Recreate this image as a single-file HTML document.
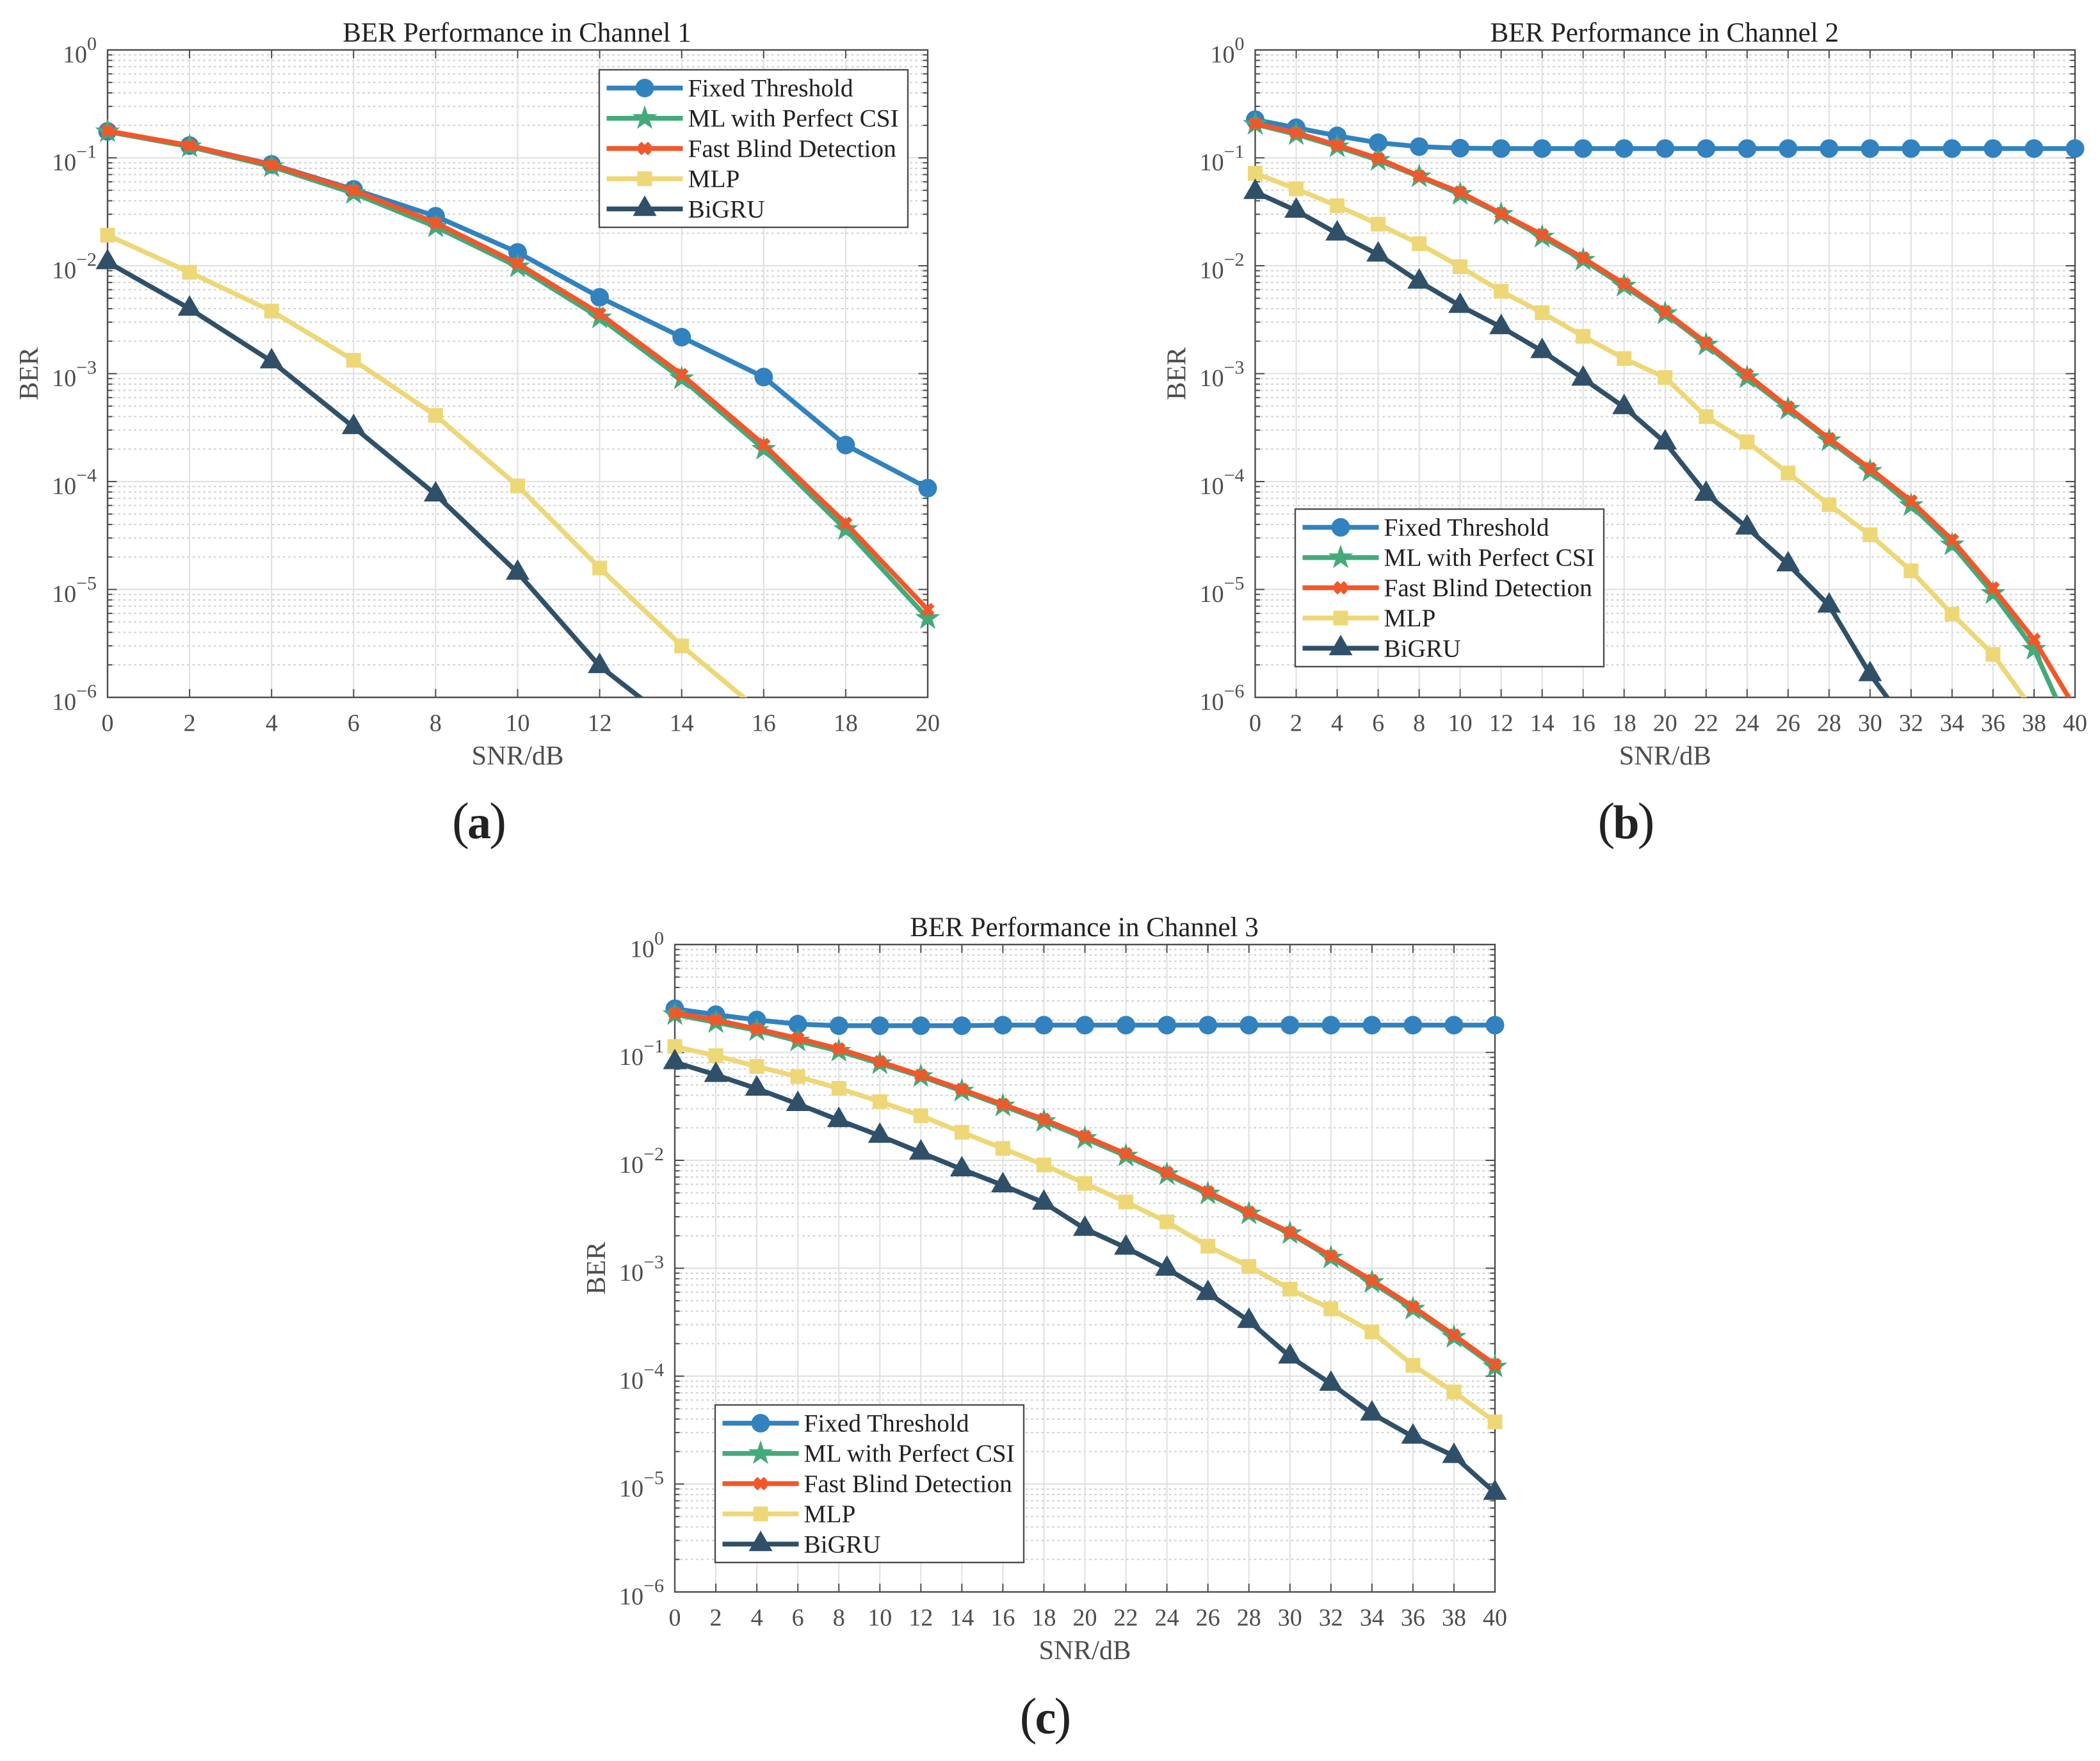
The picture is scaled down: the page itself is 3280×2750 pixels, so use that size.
<!DOCTYPE html>
<html lang="en">
<head>
<meta charset="utf-8">
<title>BER Performance in Channels 1-3</title>
<style>
  html, body { margin: 0; padding: 0; background: #fff; }
  svg { display: block; font-family: "Liberation Serif", serif; }
</style>
</head>
<body>
<svg id="figure" xmlns="http://www.w3.org/2000/svg" width="3280" height="2750" viewBox="0 0 3280 2750">
  <rect x="0" y="0" width="3280" height="2750" fill="#ffffff"/>
  <g id="panel-a"></g>
  <g id="panel-b"></g>
  <g id="panel-c"></g>
  <text x="748.5" y="1309" text-anchor="middle" font-size="80" fill="#222">(<tspan font-weight="bold" font-size="74" dx="-2.8">a</tspan><tspan dx="-2.8">)</tspan></text>
  <text x="2540" y="1309" text-anchor="middle" font-size="80" fill="#222">(<tspan font-weight="bold" font-size="74" dx="-2.8">b</tspan><tspan dx="-2.8">)</tspan></text>
  <text x="1633" y="2707" text-anchor="middle" font-size="80" fill="#222">(<tspan font-weight="bold" font-size="74" dx="-2.8">c</tspan><tspan dx="-2.8">)</tspan></text>
</svg>
<script>
// ---------- data ----------
const seriesNames = ['Fixed Threshold', 'ML with Perfect CSI', 'Fast Blind Detection', 'MLP', 'BiGRU'];
const yTickExponents = ['0', '\u22121', '\u22122', '\u22123', '\u22124', '\u22125', '\u22126'];
const yDecades = [0, -1, -2, -3, -4, -5, -6];
const minorMultipliers = [2, 3, 4, 5, 6, 7, 8, 9];

const ch1Snr = [0, 2, 4, 6, 8, 10, 12, 14, 16, 18, 20];
const ch1Fixed = [0.176, 0.13, 0.087, 0.051, 0.0288, 0.0133, 0.0051, 0.00218, 0.00093, 0.000218, 0.000087];
const ch1Ml = [0.175, 0.127, 0.083, 0.047, 0.023, 0.0098, 0.0033, 0.0009, 0.0002, 0.000036, 0.0000054];
const ch1Fast = [0.178, 0.13, 0.086, 0.05, 0.025, 0.0105, 0.0036, 0.00098, 0.00022, 0.000041, 0.0000065];
const ch1Mlp = [0.0192, 0.0087, 0.0038, 0.00133, 0.00041, 0.000091, 0.0000158, 0.000003, 0.0000007, 0.00000014, 0.00000002];
const ch1Bigru = [0.0108, 0.004, 0.0013, 0.00032, 0.000076, 0.0000143, 0.00000195, 0.0000005, 0.00000008, 0.00000002, 0.000000005];

const ch2Snr = [0, 2, 4, 6, 8, 10, 12, 14, 16, 18, 20, 22, 24, 26, 28, 30, 32, 34, 36, 38, 40];
const ch2Fixed = [0.226, 0.19, 0.16, 0.138, 0.127, 0.123, 0.122, 0.122, 0.122, 0.122, 0.122, 0.122, 0.122, 0.122, 0.122, 0.122, 0.122, 0.122, 0.122, 0.122, 0.122];
const ch2Ml = [0.205, 0.165, 0.127, 0.095, 0.067, 0.046, 0.03, 0.0185, 0.0113, 0.0065, 0.0036, 0.00185, 0.00092, 0.00047, 0.00024, 0.000125, 0.00006, 0.000026, 0.0000092, 0.0000028, 0.0000004];
const ch2Fast = [0.208, 0.171, 0.131, 0.0989, 0.0678, 0.0481, 0.0305, 0.0194, 0.0118, 0.00679, 0.00376, 0.00193, 0.00098, 0.00049, 0.00025, 0.000132, 0.000066, 0.0000288, 0.0000103, 0.00000343, 0.0000008];
const ch2Mlp = [0.0719, 0.0515, 0.036, 0.0243, 0.016, 0.0098, 0.0058, 0.00367, 0.00222, 0.00138, 0.00092, 0.0004, 0.000233, 0.00012, 0.000061, 0.0000321, 0.0000149, 0.0000059, 0.0000025, 0.00000074, 0.0000002];
const ch2Bigru = [0.0483, 0.0324, 0.0199, 0.0127, 0.00713, 0.00425, 0.0027, 0.00162, 0.0009, 0.00049, 0.00023, 0.000077, 0.0000375, 0.0000171, 0.0000071, 0.00000164, 0.0000005, 0.00000015, 0.00000004, 0.00000001, 0.000000003];

const ch3Snr = [0, 2, 4, 6, 8, 10, 12, 14, 16, 18, 20, 22, 24, 26, 28, 30, 32, 34, 36, 38, 40];
const ch3Fixed = [0.254, 0.224, 0.2, 0.183, 0.177, 0.177, 0.177, 0.177, 0.179, 0.179, 0.179, 0.179, 0.179, 0.179, 0.179, 0.179, 0.179, 0.179, 0.179, 0.179, 0.179];
const ch3Ml = [0.225, 0.19, 0.16, 0.128, 0.103, 0.079, 0.06, 0.044, 0.032, 0.023, 0.016, 0.011, 0.0074, 0.0049, 0.0032, 0.0021, 0.00125, 0.00074, 0.00042, 0.00023, 0.000122];
const ch3Fast = [0.232, 0.2, 0.165, 0.135, 0.108, 0.082, 0.0615, 0.0455, 0.033, 0.024, 0.0167, 0.0115, 0.0077, 0.0051, 0.0033, 0.00215, 0.0013, 0.00077, 0.00044, 0.00024, 0.000128];
const ch3Mlp = [0.1135, 0.0933, 0.0741, 0.0597, 0.0465, 0.035, 0.0259, 0.0182, 0.0129, 0.00906, 0.00611, 0.00411, 0.00269, 0.0016, 0.00104, 0.00064, 0.00042, 0.000257, 0.000126, 0.0000714, 0.0000377];
const ch3Bigru = [0.0813, 0.0619, 0.0462, 0.0333, 0.0236, 0.0169, 0.0118, 0.00826, 0.00587, 0.00405, 0.00232, 0.00155, 0.00099, 0.00059, 0.000325, 0.000152, 0.000085, 0.000045, 0.0000275, 0.0000182, 0.0000083];

// ---------- layout & style ----------
const NS = 'http://www.w3.org/2000/svg';
const seriesStyles = [
  { key: 'fixed-threshold', color: '#3182bf', marker: 'circle' },
  { key: 'ml-perfect-csi', color: '#44aa7a', marker: 'star' },
  { key: 'fast-blind-detection', color: '#f0572a', marker: 'cross' },
  { key: 'mlp', color: '#eed777', marker: 'square' },
  { key: 'bigru', color: '#2f5068', marker: 'triangle' }
];
const panels = [
  { id: 'panel-a', clip: 'clip-a', title: 'BER Performance in Channel 1', left: 168, right: 1449, top: 78, bottom: 1089, xMax: 20, snr: ch1Snr, series: [ch1Fixed, ch1Ml, ch1Fast, ch1Mlp, ch1Bigru], legendX: 936, legendY: 109 },
  { id: 'panel-b', clip: 'clip-b', title: 'BER Performance in Channel 2', left: 1960.5, right: 3241, top: 78, bottom: 1089, xMax: 40, snr: ch2Snr, series: [ch2Fixed, ch2Ml, ch2Fast, ch2Mlp, ch2Bigru], legendX: 2023, legendY: 795 },
  { id: 'panel-c', clip: 'clip-c', title: 'BER Performance in Channel 3', left: 1054, right: 2335, top: 1475, bottom: 2486, xMax: 40, snr: ch3Snr, series: [ch3Fixed, ch3Ml, ch3Fast, ch3Mlp, ch3Bigru], legendX: 1117, legendY: 2194 }
];
const AXIS = '#4d4d4d';

function make(parent, tag, attrs, text) {
  const el = document.createElementNS(NS, tag);
  for (const k in attrs) el.setAttribute(k, attrs[k]);
  if (text !== undefined) el.textContent = text;
  parent.appendChild(el);
  return el;
}
function xScale(p, v) { return p.left + (v / p.xMax) * (p.right - p.left); }
function yScale(p, v) { return p.top + (-Math.log10(v) / 6) * (p.bottom - p.top); }

function drawMarker(parent, type, cx, cy, color) {
  let el;
  if (type === 'circle') {
    el = make(parent, 'circle', { cx: cx, cy: cy, r: 14.5, fill: color });
  } else if (type === 'square') {
    el = make(parent, 'rect', { x: cx - 11.5, y: cy - 11.5, width: 23, height: 23, fill: color });
  } else if (type === 'triangle') {
    el = make(parent, 'polygon', { points: cx + ',' + (cy - 21) + ' ' + (cx + 18.5) + ',' + (cy + 11) + ' ' + (cx - 18.5) + ',' + (cy + 11), fill: color });
  } else if (type === 'star') {
    const pts = [];
    for (let i = 0; i < 10; i++) {
      const r = i % 2 === 0 ? 20.5 : 8;
      const a = -Math.PI / 2 + i * Math.PI / 5;
      pts.push((cx + r * Math.cos(a)).toFixed(2) + ',' + (cy + r * Math.sin(a)).toFixed(2));
    }
    el = make(parent, 'polygon', { points: pts.join(' '), fill: color });
  } else {
    const d = 7.8;
    el = make(parent, 'path', { d: 'M' + (cx - d) + ' ' + (cy - d) + 'L' + (cx + d) + ' ' + (cy + d) + 'M' + (cx - d) + ' ' + (cy + d) + 'L' + (cx + d) + ' ' + (cy - d), stroke: color, 'stroke-width': 8, fill: 'none' });
  }
  return el;
}

function drawPanel(p) {
  const root = document.getElementById(p.id);
  const w = p.right - p.left;
  const h = p.bottom - p.top;

  const defs = make(root, 'defs', {});
  const cp = make(defs, 'clipPath', { id: p.clip });
  make(cp, 'rect', { x: p.left, y: p.top, width: w, height: h });

  // grid
  const grid = make(root, 'g', {});
  
  
  yDecades.forEach(function (e) {
    if (e > -6) {
      minorMultipliers.forEach(function (m) {
        const y = yScale(p, m * Math.pow(10, e - 1));
        const line = make(grid, 'line', { x1: p.left, x2: p.right, y1: y, y2: y, stroke: '#cccccc', 'stroke-width': 2, 'stroke-dasharray': '3.3 5' });
        
        
      });
    }
  });
  yDecades.forEach(function (e) {
    const y = yScale(p, Math.pow(10, e));
    const line = make(grid, 'line', { x1: p.left, x2: p.right, y1: y, y2: y, stroke: '#e2e2e2', 'stroke-width': 2.2 });
    
    
  });
  p.snr.forEach(function (v) {
    const x = xScale(p, v);
    const line = make(grid, 'line', { x1: x, x2: x, y1: p.top, y2: p.bottom, stroke: '#e0e0e0', 'stroke-width': 2 });
    
    
  });

  // ticks
  const ticks = make(root, 'g', { stroke: AXIS });
  
  
  p.snr.forEach(function (v) {
    const x = xScale(p, v);
    make(ticks, 'line', { x1: x, x2: x, y1: p.bottom, y2: p.bottom - 13, 'stroke-width': 2 });
    make(ticks, 'line', { x1: x, x2: x, y1: p.top, y2: p.top + 13, 'stroke-width': 2 });
  });
  yDecades.forEach(function (e) {
    const y = yScale(p, Math.pow(10, e));
    make(ticks, 'line', { x1: p.left, x2: p.left + 14.5, y1: y, y2: y, 'stroke-width': 2 });
    make(ticks, 'line', { x1: p.right, x2: p.right - 14.5, y1: y, y2: y, 'stroke-width': 2 });
    if (e > -6) {
      minorMultipliers.forEach(function (m) {
        const ym = yScale(p, m * Math.pow(10, e - 1));
        make(ticks, 'line', { x1: p.left, x2: p.left + 7.5, y1: ym, y2: ym, 'stroke-width': 2 });
        make(ticks, 'line', { x1: p.right, x2: p.right - 7.5, y1: ym, y2: ym, 'stroke-width': 2 });
      });
    }
  });

  // frame
  const frame = make(root, 'rect', { x: p.left, y: p.top, width: w, height: h, fill: 'none', stroke: AXIS, 'stroke-width': 2.4 });
  
  

  // tick labels
  p.snr.forEach(function (v) {
    const t = make(root, 'text', { x: xScale(p, v), y: p.bottom + 52.5, 'text-anchor': 'middle', 'font-size': 38, fill: AXIS }, String(v));
    
    
  });
  yDecades.forEach(function (e, i) {
    const y = yScale(p, Math.pow(10, e));
    const t = make(root, 'text', { x: p.left - 17, y: y + 19.5, 'text-anchor': 'end', fill: AXIS, 'font-size': 38 });
    
    
    make(t, 'tspan', {}, '10');
    make(t, 'tspan', { 'font-size': 30, dy: -19.5 }, yTickExponents[i]);
  });

  // titles
  const title = make(root, 'text', { x: (p.left + p.right) / 2 - 1, y: p.top - 13, 'text-anchor': 'middle', 'font-size': 43, fill: '#222222' }, p.title);
  
  
  const xTitle = make(root, 'text', { x: (p.left + p.right) / 2, y: p.bottom + 105, 'text-anchor': 'middle', 'font-size': 42.5, fill: AXIS }, 'SNR/dB');
  
  
  const yx = p.left - 109;
  const yy = (p.top + p.bottom) / 2;
  const yTitle = make(root, 'text', { x: yx, y: yy, transform: 'rotate(-90 ' + yx + ' ' + yy + ')', 'text-anchor': 'middle', 'font-size': 42.5, fill: AXIS }, 'BER');
  
  

  // series
  p.series.forEach(function (values, s) {
    const st = seriesStyles[s];
    const g = make(root, 'g', {});
    
    
    const pts = values.map(function (v, i) { return xScale(p, p.snr[i]).toFixed(2) + ',' + yScale(p, v).toFixed(2); }).join(' ');
    const line = make(g, 'polyline', { points: pts, fill: 'none', stroke: st.color, 'stroke-width': 7.5, 'stroke-linejoin': 'round', 'clip-path': 'url(#' + p.clip + ')' });
    
    
    values.forEach(function (v, i) {
      if (v < 1e-6 || v > 1) return;
      const m = drawMarker(g, st.marker, xScale(p, p.snr[i]), yScale(p, v), st.color);
      
      
    });
  });

  // legend
  const lg = make(root, 'g', {});
  
  
  make(lg, 'rect', { x: p.legendX, y: p.legendY, width: 482, height: 246, fill: '#ffffff', stroke: AXIS, 'stroke-width': 2.4 });
  seriesNames.forEach(function (name, s) {
    const st = seriesStyles[s];
    const ry = p.legendY + 28.5 + s * 47.2;
    const entry = make(lg, 'g', {});
    
    
    make(entry, 'line', { x1: p.legendX + 11.5, x2: p.legendX + 130.5, y1: ry, y2: ry, stroke: st.color, 'stroke-width': 7.5 });
    drawMarker(entry, st.marker, p.legendX + 71, ry, st.color);
    make(entry, 'text', { x: p.legendX + 138.5, y: ry + 13, 'font-size': 39.3, fill: '#222222' }, name);
  });
}
panels.forEach(drawPanel);
</script>
</body>
</html>
